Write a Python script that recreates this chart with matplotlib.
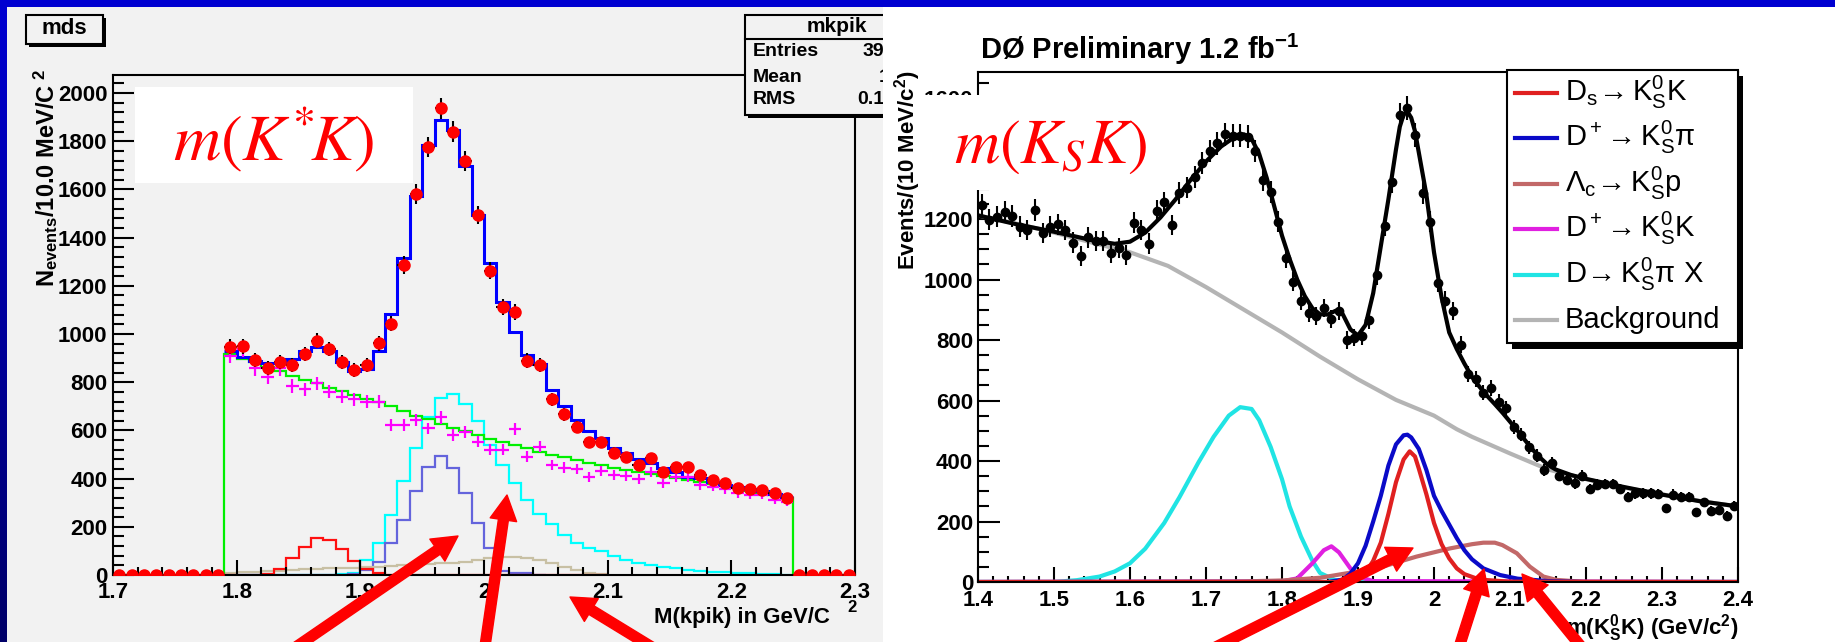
import numpy as np
import matplotlib
matplotlib.use('Agg')
import matplotlib.pyplot as plt
import matplotlib.patches as mpatches
from matplotlib.colors import LinearSegmentedColormap
from matplotlib.ticker import MultipleLocator, FixedLocator, FuncFormatter

plt.rcParams['font.family'] = ['Liberation Sans', 'DejaVu Sans']
plt.rcParams['mathtext.fontset'] = 'custom'
plt.rcParams['mathtext.rm'] = 'Liberation Sans'
plt.rcParams['mathtext.it'] = 'Liberation Sans:italic'
plt.rcParams['mathtext.bf'] = 'Liberation Sans:bold'
plt.rcParams['mathtext.default'] = 'regular'

# ---------------- left panel: m(K*K), 10 MeV bins ----------------
kk_centers = np.round(np.arange(1.705, 2.30, 0.01), 3)
kk_data = [0, 0, 0, 0, 0, 0, 0, 0, 0,
           947, 950, 892, 860, 885, 871, 917, 972, 938, 885,
           851, 871, 962, 1043, 1286, 1581, 1775, 1936, 1840, 1718,
           1494, 1263, 1113, 1093, 890, 871, 729, 667, 615, 551,
           551, 508, 489, 458, 484, 429, 449, 449, 415, 394,
           383, 360, 356, 353, 339, 321,
           0, 0, 0, 0, 0]
# histograms from 1.79 to 2.25
kk_total = [929, 906, 888, 878, 878, 895, 929, 947, 931, 885,
            848, 853, 929, 1083, 1314, 1572, 1784, 1888, 1846, 1698,
            1494, 1296, 1134, 1007, 913, 874, 768, 701, 643, 598,
            567, 528, 505, 480, 463, 443, 429, 408, 401, 387,
            373, 366, 356, 349, 335, 322]
kk_bkg = [916, 896, 885, 864, 846, 826, 810, 795, 778, 762,
          746, 731, 718, 700, 680, 660, 646, 628, 612, 596,
          582, 566, 552, 538, 525, 512, 500, 488, 477, 466,
          455, 445, 436, 427, 418, 410, 401, 393, 385, 377,
          370, 360, 350, 340, 330, 318]
kk_cyan = [0, 0, 0, 0, 0, 0, 0, 0, 0, 5,
           8, 62, 134, 250, 390, 528, 655, 733, 751, 708,
           639, 539, 456, 380, 311, 252, 212, 166, 131, 111,
           100, 79, 62, 51, 41, 32, 28, 21, 18, 14,
           11, 7, 7, 3, 3, 2]
kk_sideband = [910, 936, 857, 823, 857, 784, 770, 795, 761, 740,
               729, 719, 719, 622, 622, 643, 608, 654, 581, 595,
               553, 519, 519, 605, 491, 532, 456, 446, 440, 408,
               432, 415, 410, 398, 429, 380, 408, 408, 373, 366,
               356, 339, 332, 332, 311, 304]
# 1.79 - 2.05
kk_purple = [0, 0, 0, 0, 0, 0, 0, 0, 0, 0,
             5, 20, 55, 131, 228, 349, 450, 492, 445, 339,
             217, 111, 17, 10, 10, 0]
# 1.79 - 2.10
kk_red = [0, 0, 0, 4, 24, 69, 118, 152, 145, 107,
          58, 24, 7, 0, 0, 0, 0, 0, 0, 0,
          0, 0, 0, 0, 0, 0, 0, 0, 0, 0, 0]
kk_tan = [10, 12, 14, 16, 18, 20, 23, 25, 27, 28,
          30, 32, 35, 38, 41, 44, 47, 49, 50, 53,
          62, 69, 76, 76, 69, 62, 50, 35, 21, 10, 4]
stat_names = ['Entries', 'Mean', 'RMS']
stat_values = ['39', '1', '0.1']   # the rest of the box is hidden by the right plot

# ---------------- right panel: m(KsK), D0 ----------------
ksk_centers = np.round(np.arange(1.405, 2.40, 0.01), 3)
ksk_data = [1246, 1197, 1208, 1224, 1210, 1175, 1164, 1230, 1153, 1175,
            1183, 1164, 1122, 1078, 1139, 1128, 1128, 1087, 1103, 1081,
            1188, 1164, 1119, 1228, 1255, 1180, 1287, 1304, 1340, 1385,
            1425, 1451, 1480, 1475, 1476, 1472, 1425, 1330, 1290, 1191,
            1072, 992, 930, 888, 878, 905, 870, 896, 800, 808,
            812, 866, 1015, 1177, 1323, 1544, 1566, 1478, 1287, 1191,
            990, 930, 896, 785, 688, 672, 626, 641, 596, 576,
            512, 487, 445, 418, 370, 394, 352, 338, 326, 352,
            308, 322, 324, 324, 308, 280, 293, 293, 293, 291,
            243, 289, 282, 282, 230, 263, 236, 238, 219, 252]
fit_x = [1.40, 1.45, 1.50, 1.55, 1.58, 1.60, 1.62, 1.64, 1.66, 1.68,
         1.70, 1.72, 1.74, 1.75, 1.76, 1.77, 1.78, 1.79, 1.80, 1.81,
         1.82, 1.83, 1.84, 1.85, 1.86, 1.87, 1.875, 1.88, 1.89, 1.90,
         1.91, 1.92, 1.93, 1.94, 1.95, 1.955, 1.96, 1.965, 1.97, 1.975,
         1.98, 1.99, 2.00, 2.01, 2.02, 2.03, 2.04, 2.05, 2.06, 2.07,
         2.08, 2.09, 2.10, 2.11, 2.12, 2.13, 2.14, 2.15, 2.16, 2.18,
         2.20, 2.22, 2.25, 2.30, 2.35, 2.40]
fit_y = [1212, 1183, 1158, 1130, 1118, 1125, 1155, 1205, 1265, 1330,
         1390, 1440, 1475, 1480, 1465, 1415, 1335, 1240, 1145, 1068,
         1000, 945, 905, 885, 884, 896, 900, 885, 835, 815,
         850, 955, 1110, 1265, 1430, 1505, 1545, 1555, 1535, 1490,
         1420, 1280, 1090, 940, 825, 770, 722, 678, 645, 615,
         588, 560, 530, 500, 468, 437, 410, 387, 372, 354,
         341, 330, 314, 289, 267, 250]
bkg_x = [1.40, 1.45, 1.50, 1.55, 1.60, 1.65, 1.70, 1.75, 1.80, 1.85,
         1.90, 1.95, 2.00, 2.03, 2.05, 2.10, 2.15, 2.20, 2.25, 2.30,
         2.35, 2.40]
bkg_y = [1212, 1185, 1155, 1122, 1090, 1045, 975, 900, 825, 745,
         670, 602, 550, 505, 480, 425, 372, 340, 312, 290,
         268, 249]
cyan_x = [1.40, 1.50, 1.53, 1.56, 1.58, 1.60, 1.62, 1.645, 1.665, 1.69,
          1.71, 1.73, 1.745, 1.76, 1.77, 1.785, 1.80, 1.81, 1.825, 1.84,
          1.85, 1.87, 1.89, 2.40]
cyan_y = [0, 0, 6, 18, 35, 62, 110, 195, 280, 395,
          480, 550, 578, 572, 535, 447, 340, 250, 150, 70,
          30, 6, 0, 0]
mag_x = [1.40, 1.80, 1.82, 1.84, 1.855, 1.865, 1.875, 1.89, 1.90, 1.92, 2.40]
mag_y = [0, 2, 12, 62, 105, 118, 98, 45, 18, 3, 0]
dplus_x = [1.40, 1.86, 1.88, 1.89, 1.90, 1.91, 1.92, 1.93, 1.94, 1.95,
           1.96, 1.965, 1.97, 1.98, 1.99, 2.00, 2.01, 2.02, 2.03, 2.04,
           2.05, 2.065, 2.087, 2.11, 2.15, 2.20, 2.40]
dplus_y = [0, 0, 8, 28, 62, 120, 200, 285, 385, 455,
           485, 487, 478, 440, 370, 285, 235, 190, 145, 105,
           75, 45, 23, 11, 3, 0, 0]
ds_x = [1.40, 1.89, 1.90, 1.91, 1.92, 1.93, 1.94, 1.95, 1.96, 1.968,
        1.975, 1.98, 1.99, 2.00, 2.01, 2.02, 2.03, 2.04, 2.06, 2.10, 2.40]
ds_y = [0, 0, 8, 30, 70, 130, 225, 330, 405, 432,
        415, 375, 290, 195, 125, 78, 45, 26, 8, 1, 0]
lc_x = [1.40, 1.75, 1.80, 1.85, 1.90, 1.933, 1.977, 2.021, 2.05, 2.065,
        2.08, 2.09, 2.109, 2.126, 2.144, 2.161, 2.20, 2.40]
lc_y = [0, 2, 5, 14, 35, 51, 84, 111, 125, 130,
        130, 122, 95, 51, 18, 7, 0, 0]

legend_labels = [r'$D_s\!\rightarrow K^0_SK$', r'$D^+\!\rightarrow K^0_S\pi$',
                 r'$\Lambda_c\!\rightarrow K^0_Sp$', r'$D^+\!\rightarrow K^0_SK$',
                 r'$D\!\rightarrow K^0_S\pi\ X$', 'Background']
legend_colors = ['#e02020', '#0a0ac8', '#c26868', '#e020e0', '#20e4e4', '#b4b4b4']

W, H = 1835, 642
fig = plt.figure(figsize=(W / 100, H / 100), dpi=100)


def rect(x0, y0, x1, y1, z, **kw):
    p = mpatches.Rectangle((x0 / W, 1 - y1 / H), (x1 - x0) / W, (y1 - y0) / H,
                           transform=fig.transFigure, zorder=z, **kw)
    fig.add_artist(p)
    return p


def txt(x, y, s, **kw):
    return fig.text(x / W, 1 - y / H, s, **kw)


def axbox(x0, y0, x1, y1):
    return [x0 / W, 1 - y1 / H, (x1 - x0) / W, (y1 - y0) / H]


# slide background
bg = fig.add_axes([0, 0, 1, 1], zorder=-10)
cmap = LinearSegmentedColormap.from_list('slide', ['#0000d2', '#000068'])
bg.imshow(np.linspace(0, 1, 256).reshape(-1, 1), aspect='auto', cmap=cmap,
          extent=[0, 1, 0, 1])
bg.axis('off')

rect(7, 7, 883, 642, -5, fc='#f2f2f2', ec='none')
rect(883, 7, W + 5, 642, 3, fc='white', ec='none')

fmt = FuncFormatter(lambda v, p: f'{v:g}')

# ---------------- left axes ----------------
axL = fig.add_axes(axbox(113, 75, 855, 575), zorder=0)
axL.set_facecolor('none')
e_all = np.linspace(1.70, 2.30, 61)
e_main = np.linspace(1.79, 2.25, 47)
axL.stairs(kk_cyan, e_main, baseline=None, color='#00ffff', lw=1.6)
axL.stairs(kk_purple, e_main[:27], baseline=None, color='#6464dc', lw=1.6)
axL.stairs(kk_tan, e_main[:32], baseline=None, color='#c8c0a4', lw=1.6)
axL.stairs(kk_red, e_main[:32], baseline=None, color='#ff1010', lw=1.6)
axL.stairs(np.concatenate([np.zeros(9), kk_bkg, np.zeros(5)]), e_all,
           baseline=None, color='#00f000', lw=1.6)
sb_c = kk_centers[9:55]
axL.errorbar(sb_c, kk_sideband, xerr=0.005, yerr=np.sqrt(kk_sideband),
             fmt='none', ecolor='#ff00ff', elinewidth=1.6)
axL.stairs(kk_total, e_main, baseline=None, color='#0000ff', lw=2.2)
kk_arr = np.array(kk_data, dtype=float)
axL.errorbar(kk_centers, kk_arr, xerr=np.where(kk_arr > 0, 0.005, 0),
             yerr=np.sqrt(kk_arr), fmt='o', ms=8, color='#ff0000',
             ecolor='black', elinewidth=1.5, capsize=0, zorder=5)
axL.set_xlim(1.7, 2.3)
axL.set_ylim(0, 2075)
axL.xaxis.set_major_locator(FixedLocator([1.7, 1.8, 1.9, 2.0, 2.1, 2.2, 2.3]))
axL.xaxis.set_minor_locator(MultipleLocator(0.02))
axL.yaxis.set_major_locator(MultipleLocator(200))
axL.yaxis.set_minor_locator(MultipleLocator(40))
axL.xaxis.set_major_formatter(fmt)
axL.tick_params(direction='in', which='both', top=False, right=False, width=1.5,
                labelsize=16)
axL.tick_params(axis='y', which='major', length=15, pad=4)
axL.tick_params(axis='y', which='minor', length=8)
axL.tick_params(axis='x', which='major', length=11, pad=5)
axL.tick_params(axis='x', which='minor', length=5.5)
for lab in axL.get_xticklabels() + axL.get_yticklabels():
    lab.set_fontweight('bold')
for s in axL.spines.values():
    s.set_linewidth(1.5)

# left decorations
rect(29, 18, 106, 47, 1, fc='black', ec='none')
rect(26, 15, 103, 44, 1.1, fc='#f2f2f2', ec='black', lw=1.5)
txt(64, 29, 'mds', ha='center', va='center', fontsize=16, fontweight='bold', zorder=1.2)
rect(748, 18, 938, 118, 2, fc='black', ec='none')
rect(745, 15, 935, 115, 2.1, fc='#f2f2f2', ec='black', lw=1.5)
fig.add_artist(plt.Line2D([745 / W, 935 / W], [1 - 39 / H, 1 - 39 / H],
                          transform=fig.transFigure, color='black', lw=1.5, zorder=2.2))
txt(837, 27, 'mkpik', ha='center', va='center', fontsize=15, fontweight='bold', zorder=2.3)
for lab, val, y, xv in zip(stat_names, stat_values, [51, 77, 99], [863, 879, 857]):
    txt(753, y, lab, ha='left', va='center', fontsize=14, fontweight='bold', zorder=2.3)
    txt(xv, y, val, ha='left', va='center', fontsize=14, fontweight='bold', zorder=2.3)

txt(47, 287, r'N$_\mathbf{events}$/10.0 MeV/C', rotation=90, ha='center', va='bottom',
    fontsize=17, fontweight='bold', zorder=1)
txt(40, 74, '2', rotation=90, ha='center', va='center', fontsize=12,
    fontweight='bold', zorder=1)
txt(830, 617, 'M(kpik) in GeV/C', ha='right', va='center', fontsize=16,
    fontweight='bold', zorder=1)
txt(852, 608, '2', ha='center', va='center', fontsize=12, fontweight='bold', zorder=1)

rect(135, 87, 413, 183, 1, fc='white', ec='none')
txt(274, 160, r'$\mathit{m(K^{*}\!K)}$', ha='center', va='baseline', fontsize=47,
    color='#ff0000', math_fontfamily='stix', zorder=1.5)

# ---------------- right axes ----------------
axR = fig.add_axes(axbox(978, 72, 1738, 582), zorder=4)
axR.set_facecolor('none')
axR.plot(cyan_x, cyan_y, color=legend_colors[4], lw=3, solid_joinstyle='round')
axR.plot(mag_x, mag_y, color=legend_colors[3], lw=3, solid_joinstyle='round')
axR.plot(lc_x, lc_y, color=legend_colors[2], lw=3, solid_joinstyle='round')
axR.plot(dplus_x, dplus_y, color=legend_colors[1], lw=3, solid_joinstyle='round')
axR.plot(ds_x, ds_y, color=legend_colors[0], lw=3, solid_joinstyle='round')
axR.plot(bkg_x, bkg_y, color=legend_colors[5], lw=3, solid_joinstyle='round')
axR.errorbar(ksk_centers, ksk_data, xerr=0.005, yerr=np.sqrt(ksk_data), fmt='o',
             ms=6, color='black', ecolor='black', elinewidth=1.5, capsize=0)
axR.plot(fit_x, fit_y, color='black', lw=3, solid_joinstyle='round')
axR.set_xlim(1.4, 2.4)
axR.set_ylim(0, 1686)
axR.xaxis.set_major_locator(FixedLocator([1.4, 1.5, 1.6, 1.7, 1.8, 1.9, 2.0,
                                          2.1, 2.2, 2.3, 2.4]))
axR.xaxis.set_minor_locator(MultipleLocator(0.02))
axR.yaxis.set_major_locator(FixedLocator([0, 200, 400, 600, 800, 1000, 1200,
                                          1400, 1600]))
# the 1400 label sits under the white label box in the original
axR.yaxis.set_major_formatter(FuncFormatter(lambda v, p: '' if v == 1400 else f'{v:g}'))
axR.yaxis.set_minor_locator(MultipleLocator(50))
axR.xaxis.set_major_formatter(fmt)
axR.tick_params(direction='in', which='both', top=False, right=False, width=1.5,
                labelsize=16)
axR.tick_params(axis='y', which='major', length=16, pad=3.5)
axR.tick_params(axis='y', which='minor', length=8)
axR.tick_params(axis='x', which='major', length=11, pad=5.5)
axR.tick_params(axis='x', which='minor', length=4.5)
for lab in axR.get_xticklabels() + axR.get_yticklabels():
    lab.set_fontweight('bold')
for s in axR.spines.values():
    s.set_linewidth(1.5)

txt(980, 59, r'DØ Preliminary 1.2 fb$^{-1}$', ha='left', va='baseline',
    fontsize=21, fontweight='bold', zorder=5)
txt(908, 70, r'Events/(10 MeV/c$^\mathbf{2}$)', rotation=90, ha='center', va='top',
    fontsize=16, fontweight='bold', zorder=5)
txt(1738, 628, r'm(K$^\mathbf{0}_\mathbf{S}$K) (GeV/c$^\mathbf{2}$)', ha='right',
    va='center', fontsize=16, fontweight='bold', zorder=5)

rect(923, 95, 1160, 190, 5, fc='white', ec='none')
txt(1051, 163, r'$\mathit{m(K_SK)}$', ha='center', va='baseline', fontsize=45,
    color='#ff0000', math_fontfamily='stix', zorder=5.5)

# legend box
rect(1512, 76, 1743, 349, 6, fc='black', ec='none')
rect(1507, 70, 1738, 343, 6.1, fc='white', ec='black', lw=1.5)
for i, (lab, col) in enumerate(zip(legend_labels, legend_colors)):
    y = 93 + i * 45.4
    fig.add_artist(plt.Line2D([1515 / W, 1557 / W], [1 - y / H, 1 - y / H],
                              transform=fig.transFigure, color=col, lw=3, zorder=6.2))
    txt(1565, y + 8, lab, ha='left', va='baseline', fontsize=21, zorder=6.2)

# red arrows drawn over the slide
arrows = [((277, 660), (458, 536)), ((483, 660), (507, 495)), ((673, 660), (570, 597)),
          ((1190, 660), (1413, 548)), ((1455, 660), (1484, 569)), ((1592, 660), (1522, 574))]
for (x0, y0), (x1, y1) in arrows:
    fig.add_artist(mpatches.FancyArrowPatch(
        (x0 / W, 1 - y0 / H), (x1 / W, 1 - y1 / H), transform=fig.transFigure,
        arrowstyle='simple,head_length=1.5,head_width=1.6,tail_width=0.6',
        mutation_scale=12, color='#ff0000', shrinkA=0, shrinkB=0, zorder=10))

fig.savefig('out.png', dpi=100)
